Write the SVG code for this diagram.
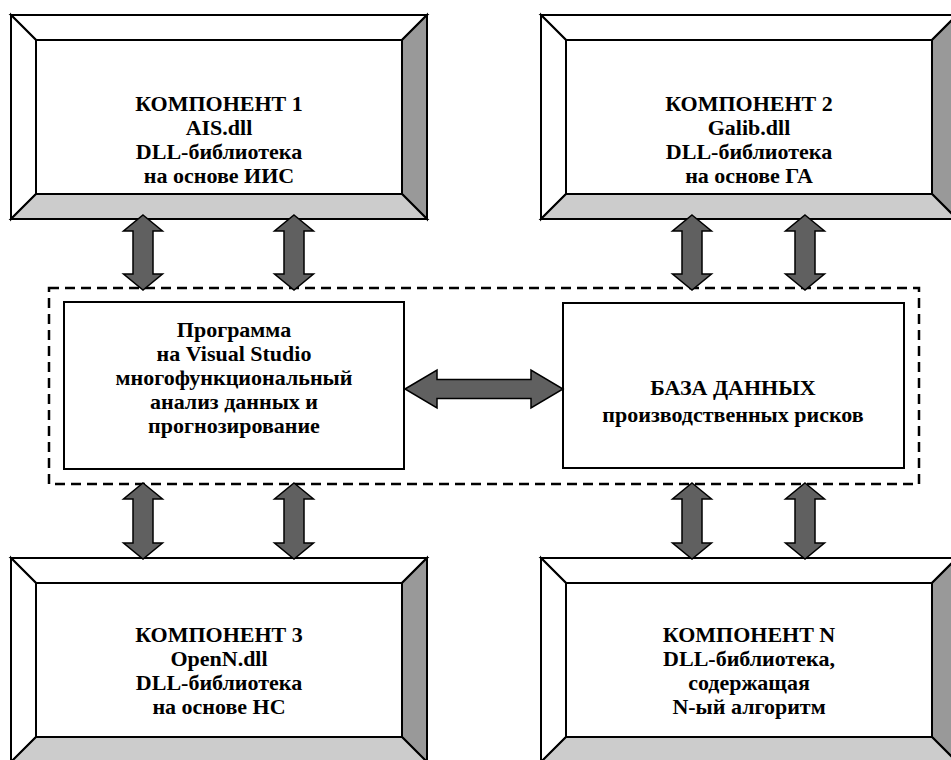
<svg xmlns="http://www.w3.org/2000/svg" width="951" height="760" viewBox="0 0 951 760">
<defs>
<style>
.bv{stroke:#000;stroke-width:2;stroke-linejoin:miter}
.lt{fill:#fff}
.rt{fill:#999999}
.bt{fill:#cccccc}
.in{fill:#fff;stroke:#000;stroke-width:2}
.box{fill:#fff;stroke:#000;stroke-width:2}
.dash{fill:none;stroke:#000;stroke-width:2.5;stroke-dasharray:10 6}
.arr{fill:#606060;stroke:#000;stroke-width:1.5;stroke-linejoin:miter}
text{font-family:"Liberation Serif","Times New Roman",serif;font-weight:bold;font-size:22px;text-anchor:middle;fill:#000}
</style>
</defs>
<rect width="951" height="760" fill="#fff"/>

<g id="dashed-frame">
<rect class="dash" x="49" y="288" width="870" height="196"/>
</g>

<g id="comp1">
<polygon class="bv lt" points="11,15 427,15 402,40 36,40"/>
<polygon class="bv lt" points="11,15 36,40 36,194 11,219"/>
<polygon class="bv rt" points="427,15 427,219 402,194 402,40"/>
<polygon class="bv bt" points="11,219 36,194 402,194 427,219"/>
<rect class="in" x="36" y="40" width="366" height="154"/>
<text x="219" y="111">КОМПОНЕНТ 1</text>
<text x="219" y="135">AIS.dll</text>
<text x="219" y="159">DLL-библиотека</text>
<text x="219" y="183">на основе ИИС</text>
</g>

<g id="comp2">
<polygon class="bv lt" points="541,15 957,15 932,40 566,40"/>
<polygon class="bv lt" points="541,15 566,40 566,194 541,219"/>
<polygon class="bv rt" points="957,15 957,219 932,194 932,40"/>
<polygon class="bv bt" points="541,219 566,194 932,194 957,219"/>
<rect class="in" x="566" y="40" width="366" height="154"/>
<text x="749" y="111">КОМПОНЕНТ 2</text>
<text x="749" y="135">Galib.dll</text>
<text x="749" y="159">DLL-библиотека</text>
<text x="749" y="183">на основе ГА</text>
</g>

<g id="comp3">
<polygon class="bv lt" points="11,558 427,558 402,583 36,583"/>
<polygon class="bv lt" points="11,558 36,583 36,737 11,762"/>
<polygon class="bv rt" points="427,558 427,762 402,737 402,583"/>
<polygon class="bv bt" points="11,762 36,737 402,737 427,762"/>
<rect class="in" x="36" y="583" width="366" height="154"/>
<text x="219" y="642">КОМПОНЕНТ 3</text>
<text x="219" y="666">OpenN.dll</text>
<text x="219" y="690">DLL-библиотека</text>
<text x="219" y="714">на основе НС</text>
</g>

<g id="compN">
<polygon class="bv lt" points="541,558 957,558 932,583 566,583"/>
<polygon class="bv lt" points="541,558 566,583 566,737 541,762"/>
<polygon class="bv rt" points="957,558 957,762 932,737 932,583"/>
<polygon class="bv bt" points="541,762 566,737 932,737 957,762"/>
<rect class="in" x="566" y="583" width="366" height="154"/>
<text x="749" y="642">КОМПОНЕНТ N</text>
<text x="749" y="666">DLL-библиотека,</text>
<text x="749" y="690">содержащая</text>
<text x="749" y="714">N-ый алгоритм</text>
</g>

<g id="program">
<rect class="box" x="64" y="302" width="340" height="167"/>
<text x="234" y="337">Программа</text>
<text x="234" y="361">на Visual Studio</text>
<text x="234" y="385">многофункциональный</text>
<text x="234" y="409">анализ данных и</text>
<text x="234" y="433">прогнозирование</text>
</g>

<g id="database">
<rect class="box" x="563" y="303" width="341" height="165"/>
<text x="733" y="395">БАЗА ДАННЫХ</text>
<text x="733" y="422">производственных рисков</text>
</g>

<g id="connectors">
<path class="arr" d="M143,215 L162.5,231 L153,231 L153,274 L162.5,274 L143,290 L123.5,274 L133,274 L133,231 L123.5,231 Z"/>
<path class="arr" d="M294,215 L313.5,231 L304,231 L304,274 L313.5,274 L294,290 L274.5,274 L284,274 L284,231 L274.5,231 Z"/>
<path class="arr" d="M692,215 L711.5,231 L702,231 L702,274 L711.5,274 L692,290 L672.5,274 L682,274 L682,231 L672.5,231 Z"/>
<path class="arr" d="M805,215 L824.5,231 L815,231 L815,274 L824.5,274 L805,290 L785.5,274 L795,274 L795,231 L785.5,231 Z"/>
<path class="arr" d="M143,483 L162.5,499 L153,499 L153,543 L162.5,543 L143,559 L123.5,543 L133,543 L133,499 L123.5,499 Z"/>
<path class="arr" d="M294,483 L313.5,499 L304,499 L304,543 L313.5,543 L294,559 L274.5,543 L284,543 L284,499 L274.5,499 Z"/>
<path class="arr" d="M692,483 L711.5,499 L702,499 L702,543 L711.5,543 L692,559 L672.5,543 L682,543 L682,499 L672.5,499 Z"/>
<path class="arr" d="M805,483 L824.5,499 L815,499 L815,543 L824.5,543 L805,559 L785.5,543 L795,543 L795,499 L785.5,499 Z"/>
<path class="arr" d="M405,389 L437,370 L437,379.5 L531,379.5 L531,370 L563,389 L531,408 L531,398.5 L437,398.5 L437,408 Z"/>
</g>
</svg>
